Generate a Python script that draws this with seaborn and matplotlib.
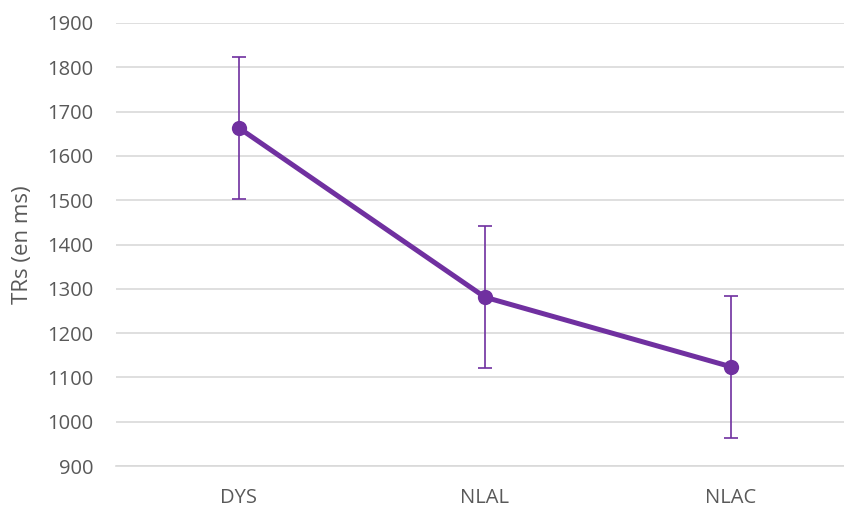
import matplotlib
matplotlib.use("Agg")
import matplotlib.pyplot as plt
import seaborn as sns
import pandas as pd

categories = ["DYS", "NLAL", "NLAC"]
means = [1663, 1281, 1124]
errors = [160, 160, 160]
yticks = [900, 1000, 1100, 1200, 1300, 1400, 1500, 1600, 1700, 1800, 1900]

sns.set_style("white")
plt.rcParams['font.family'] = ['Open Sans', 'DejaVu Sans']

purple = "#7030A0"
txt = "#595959"

df = pd.DataFrame({"cat": categories, "mean": means, "err": errors})

fig = plt.figure(figsize=(8.44, 5.08), dpi=100)
ax = fig.add_axes([116/844, 1-466/508, 738/844, 443/508])

ax.errorbar(range(len(categories)), df["mean"], yerr=df["err"], fmt="none",
            ecolor=purple, elinewidth=1.2, capsize=5, capthick=1.2, zorder=2)
sns.lineplot(data=df, x=range(len(categories)), y="mean", ax=ax, color=purple,
             linewidth=3.6, marker="o", markersize=11, markeredgewidth=0, zorder=3)

ax.set_xlim(-0.5, 2.5)
ax.set_ylim(900, 1900)
ax.set_yticks(yticks)
ax.set_xticks(range(len(categories)))
ax.set_xticklabels(categories)
ax.yaxis.grid(True, color="#d9d9d9", linewidth=1.2)
ax.set_axisbelow(True)
for s in ["top", "right", "left"]:
    ax.spines[s].set_visible(False)
ax.spines["bottom"].set_color("#d9d9d9")
ax.spines["bottom"].set_linewidth(1.2)
ax.tick_params(axis="both", length=0, labelsize=14.5, colors=txt)
ax.tick_params(axis="y", pad=16)
ax.tick_params(axis="x", pad=16)
ax.set_xlabel("")
ax.set_ylabel("TRs (en ms)", fontsize=16, color=txt)
ax.yaxis.set_label_coords(-0.112, 0.5)

fig.savefig("out.png", dpi=100)
